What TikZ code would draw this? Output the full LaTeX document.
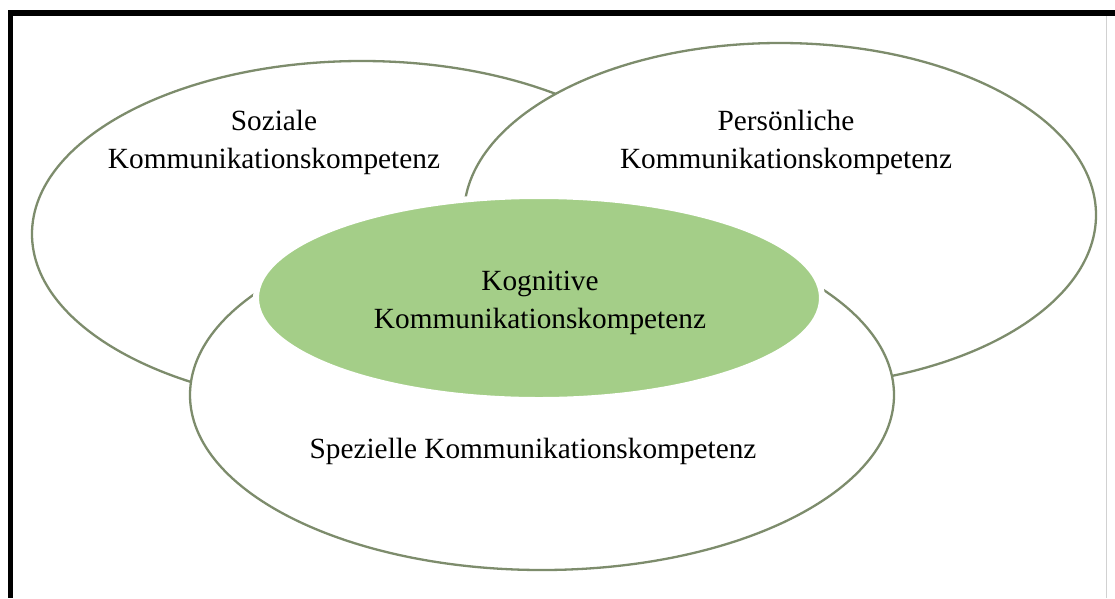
\documentclass[tikz,border=0pt]{standalone}
\usepackage{fontspec}
\setmainfont{Liberation Serif}
\usetikzlibrary{shapes.geometric}
\definecolor{rimgreen}{RGB}{125,140,108}
\definecolor{corefill}{RGB}{164,206,136}
\tikzset{
  ring/.style={ellipse, draw=rimgreen, line width=2.3pt, fill=white, inner sep=0pt},
  core/.style={ellipse, draw=white, line width=6pt, fill=corefill, inner sep=0pt},
  lbl/.style={font=\fontsize{29.3}{38}\selectfont, align=center, inner sep=0pt, text=black}
}
\begin{document}
\begin{tikzpicture}[x=1pt,y=-1pt]
\useasboundingbox (0,0) rectangle (1115,598);
\fill[white] (0,0) rectangle (1115,598);
% frame
\fill[black] (8,10) rectangle (1115,16);
\fill[black] (8,10) rectangle (12.5,598);
\draw[black!18, line width=1pt] (1106,16) -- (1106,598);
% ellipses
\node[ring, minimum width=660pt, minimum height=346pt] (soz) at (362,234) {};
\node[ring, minimum width=632pt, minimum height=344pt] (per) at (780,215) {};
\node[ring, minimum width=704pt, minimum height=350pt] (spe) at (542,395) {};
\node[core, minimum width=566pt, minimum height=204pt] (kog) at (539,298) {};
% labels
\node[lbl] (sozl) at (274,142) {Soziale\\Kommunikationskompetenz};
\node[lbl] (perl) at (786,142) {Persönliche\\Kommunikationskompetenz};
\node[lbl] (kogl) at (540,303) {Kognitive\\Kommunikationskompetenz};
\node[lbl, anchor=base] (spel) at (533,458) {Spezielle Kommunikationskompetenz};
\end{tikzpicture}
\end{document}
